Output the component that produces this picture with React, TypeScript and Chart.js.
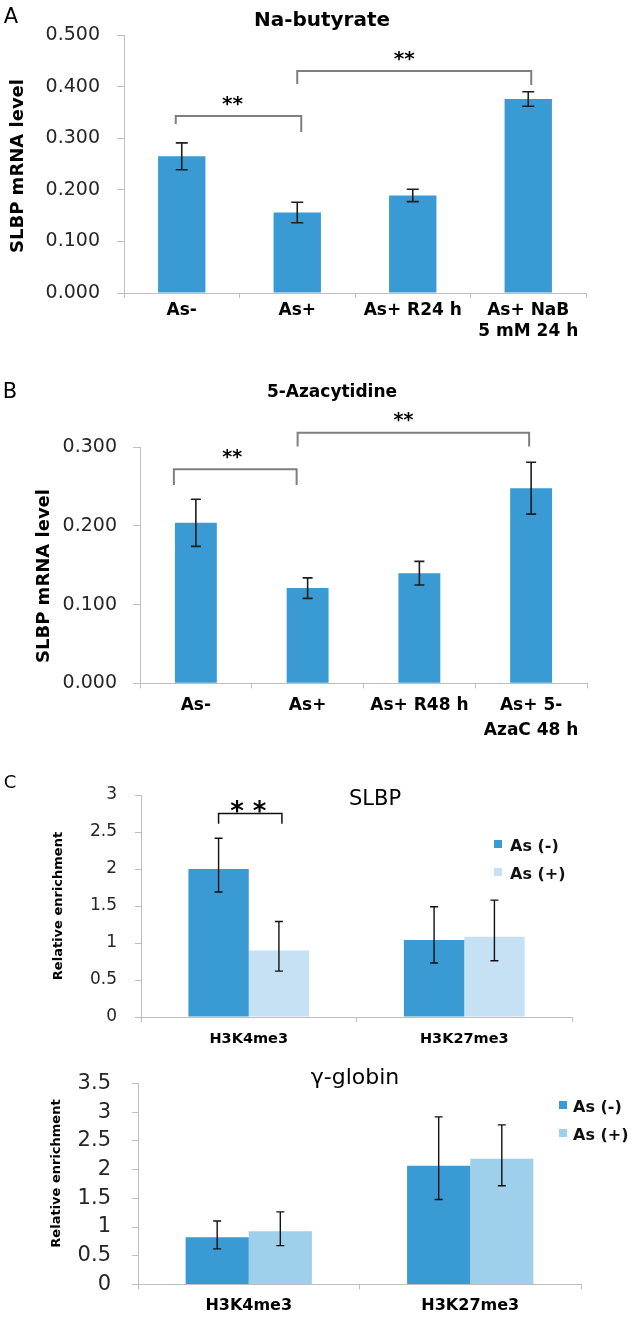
import React, { useEffect, useRef } from 'react';
import { Chart, registerables } from 'chart.js';

Chart.register(...registerables);

const FONT = "'DejaVu Sans', sans-serif";
const AXIS = '#bfbfbf';
const BLUE = '#3a9ad3';
const LIGHT_TOP = '#c6e1f4';
const LIGHT_BOT = '#9ecfeb';
const INK = '#1e1e1e';
const TICK = '#262626';

// ---- Panel A : Na-butyrate ----
const catsA = [['As-'], ['As+'], ['As+ R24 h'], ['As+ NaB', '5 mM 24 h']];
const valsA = [0.265, 0.156, 0.189, 0.376];
const errA = [0.026, 0.02, 0.012, 0.014];

// ---- Panel B : 5-Azacytidine ----
const catsB = [['As-'], ['As+'], ['As+ R48 h'], ['As+ 5-', 'AzaC 48 h']];
const valsB = [0.204, 0.121, 0.14, 0.248];
const errB = [0.03, 0.013, 0.015, 0.033];

// ---- Panel C : ChIP ----
const groupsC = ['H3K4me3', 'H3K27me3'];
const seriesC = ['As (-)', 'As (+)'];
const slbpNeg = [2.0, 1.04];
const slbpNegUp = [0.415, 0.45];
const slbpNegDown = [0.31, 0.31];
const slbpPos = [0.9, 1.085];
const slbpPosUp = [0.39, 0.495];
const slbpPosDown = [0.28, 0.325];
const globNeg = [0.82, 2.07];
const globNegUp = [0.285, 0.85];
const globNegDown = [0.2, 0.59];
const globPos = [0.925, 2.19];
const globPosUp = [0.34, 0.59];
const globPosDown = [0.25, 0.47];

function drawText(ctx: any, t: string, x: number, y: number, font: string, color: string, align: string = 'center', rotate: number = 0) {
  ctx.save();
  ctx.font = font;
  ctx.fillStyle = color;
  ctx.textAlign = align;
  ctx.textBaseline = 'alphabetic';
  ctx.translate(x, y);
  if (rotate) ctx.rotate(rotate);
  const m = ctx.measureText(t);
  const off = (m.actualBoundingBoxAscent - m.actualBoundingBoxDescent) / 2;
  ctx.fillText(t, 0, off);
  ctx.restore();
}

function decor(cfg: any) {
  return {
    id: 'decor_' + cfg.key,
    afterDatasetsDraw(chart: any) {
      const ctx = chart.ctx;
      const ys = chart.scales.y;
      (cfg.errors || []).forEach((e: any) => {
        const meta = chart.getDatasetMeta(e.ds);
        const vals = chart.data.datasets[e.ds].data;
        meta.data.forEach((bar: any, i: number) => {
          const v = vals[i];
          const yt = ys.getPixelForValue(v + e.up[i]);
          const yb = ys.getPixelForValue(v - e.down[i]);
          ctx.save();
          ctx.strokeStyle = e.color;
          ctx.lineWidth = e.width;
          ctx.beginPath();
          ctx.moveTo(bar.x, yt);
          ctx.lineTo(bar.x, yb);
          ctx.moveTo(bar.x - e.cap, yt);
          ctx.lineTo(bar.x + e.cap, yt);
          ctx.moveTo(bar.x - e.cap, yb);
          ctx.lineTo(bar.x + e.cap, yb);
          ctx.stroke();
          ctx.restore();
        });
      });
    },
    afterDraw(chart: any) {
      const ctx = chart.ctx;
      const ys = chart.scales.y;
      const top = cfg.top;
      (cfg.brackets || []).forEach((b: any) => {
        const x1 = chart.getDatasetMeta(b.from[0]).data[b.from[1]].x + b.dxFrom;
        const x2 = chart.getDatasetMeta(b.to[0]).data[b.to[1]].x + b.dxTo;
        const yTop = ys.getPixelForValue(b.top);
        const yL = ys.getPixelForValue(b.legFrom);
        const yR = ys.getPixelForValue(b.legTo);
        ctx.save();
        ctx.strokeStyle = b.color;
        ctx.lineWidth = b.width;
        ctx.beginPath();
        ctx.moveTo(x1, yL);
        ctx.lineTo(x1, yTop);
        ctx.lineTo(x2, yTop);
        ctx.lineTo(x2, yR);
        ctx.stroke();
        ctx.restore();
        drawText(ctx, b.star, (x1 + x2) / 2 + b.starDx, ys.getPixelForValue(b.starValue), b.starFont, '#000');
      });
      (cfg.texts || []).forEach((t: any) => {
        drawText(ctx, t.text, t.x, t.y - top, t.font, t.color || '#000', t.align || 'center', t.rotate || 0);
      });
      if (cfg.legend) {
        const L = cfg.legend;
        chart.data.datasets.forEach((ds: any, i: number) => {
          const yc = L.y + i * L.gap - top;
          ctx.save();
          ctx.fillStyle = ds.backgroundColor;
          ctx.fillRect(L.boxX, yc - 2 - L.box / 2, L.box, L.box);
          ctx.restore();
          drawText(ctx, ds.label, L.textX, yc, L.font, '#111', 'left');
        });
      }
    },
  };
}

function yAxis(min: number, max: number, step: number, fmt: (v: number) => string, size: number, tickLen: number, pad: number, width: number) {
  return {
    min,
    max,
    ticks: { stepSize: step, callback: (v: any) => fmt(Number(v)), font: { family: FONT, size }, color: TICK, padding: pad },
    grid: { drawOnChartArea: false, drawTicks: true, tickLength: tickLen, color: AXIS },
    border: { display: true, color: AXIS, width: 1 },
    afterFit: (s: any) => { s.width = width; },
  };
}

function xAxis(size: number, lineHeight: number, pad: number, height: number) {
  return {
    offset: true,
    grid: { offset: true, drawOnChartArea: false, drawTicks: true, tickLength: 5, color: AXIS },
    border: { display: true, color: AXIS, width: 1 },
    ticks: { font: { family: FONT, size, weight: 'bold', lineHeight }, color: '#000', padding: pad, autoSkip: false, maxRotation: 0, minRotation: 0 },
    afterFit: (s: any) => { s.height = height; },
  };
}

const fmt3 = (v: number) => v.toFixed(3);
const fmtC = (v: number) => String(Math.round(v * 10) / 10);

function baseOptions(padding: any, x: any, y: any) {
  return {
    animation: false,
    responsive: false,
    events: [],
    layout: { padding },
    plugins: { legend: { display: false }, tooltip: { enabled: false }, title: { display: false } },
    scales: { x, y },
  };
}

export default function App() {
  const refA = useRef<HTMLCanvasElement>(null);
  const refB = useRef<HTMLCanvasElement>(null);
  const refC1 = useRef<HTMLCanvasElement>(null);
  const refC2 = useRef<HTMLCanvasElement>(null);

  useEffect(() => {
    const charts: any[] = [];

    // Panel A: canvas top 0, height 345; area 124..586 x 35..293
    charts.push(new Chart(refA.current as any, {
      type: 'bar',
      data: { labels: catsA, datasets: [{ label: 'A', data: valsA, backgroundColor: BLUE, barPercentage: 0.41, categoryPercentage: 1 }] },
      options: baseOptions({ left: 0, top: 35, right: 47, bottom: 0 }, xAxis(17, 1.25, 2, 52), yAxis(0, 0.5, 0.1, fmt3, 19, 7, 17, 124)) as any,
      plugins: [decor({
        key: 'A', top: 0,
        errors: [{ ds: 0, up: errA, down: errA, cap: 6, width: 1.6, color: INK }],
        brackets: [
          { from: [0, 0], to: [0, 1], dxFrom: -6, dxTo: 4, top: 0.343, legFrom: 0.3275, legTo: 0.312, color: '#7f7f7f', width: 2, star: '**', starFont: `bold 20px ${FONT}`, starValue: 0.373, starDx: -6 },
          { from: [0, 1], to: [0, 3], dxFrom: 0, dxTo: 3, top: 0.43, legFrom: 0.405, legTo: 0.403, color: '#7f7f7f', width: 2, star: '**', starFont: `bold 20px ${FONT}`, starValue: 0.46, starDx: -10 },
        ],
        texts: [
          { text: 'A', x: 11, y: 15, font: `21px ${FONT}` },
          { text: 'Na-butyrate', x: 322, y: 20, font: `bold 20px ${FONT}` },
          { text: 'SLBP mRNA level', x: 16, y: 166, font: `bold 18px ${FONT}`, rotate: -Math.PI / 2 },
        ],
      })],
    }));

    // Panel B: canvas top 345, height 405; area 140..587 x 447.3..683.3 (page)
    charts.push(new Chart(refB.current as any, {
      type: 'bar',
      data: { labels: catsB, datasets: [{ label: 'B', data: valsB, backgroundColor: BLUE, barPercentage: 0.375, categoryPercentage: 1 }] },
      options: baseOptions({ left: 0, top: 102.3, right: 46, bottom: 0 }, xAxis(17, 1.45, 5, 66.7), yAxis(0, 0.3, 0.1, fmt3, 19, 7, 16, 140)) as any,
      plugins: [decor({
        key: 'B', top: 345,
        errors: [{ ds: 0, up: errB, down: errB, cap: 5, width: 1.6, color: INK }],
        brackets: [
          { from: [0, 0], to: [0, 1], dxFrom: -22, dxTo: -11, top: 0.272, legFrom: 0.252, legTo: 0.252, color: '#7f7f7f', width: 2, star: '**', starFont: `bold 19px ${FONT}`, starValue: 0.292, starDx: -3 },
          { from: [0, 1], to: [0, 3], dxFrom: -10, dxTo: -2, top: 0.3185, legFrom: 0.301, legTo: 0.301, color: '#7f7f7f', width: 2, star: '**', starFont: `bold 19px ${FONT}`, starValue: 0.3385, starDx: -10 },
        ],
        texts: [
          { text: 'B', x: 10, y: 390, font: `21px ${FONT}` },
          { text: '5-Azacytidine', x: 332, y: 392, font: `bold 17px ${FONT}` },
          { text: 'SLBP mRNA level', x: 42, y: 576, font: `bold 18px ${FONT}`, rotate: -Math.PI / 2 },
        ],
      })],
    }));

    // Panel C top: canvas top 750, height 300; area 141..572 x 795..1017 (page)
    charts.push(new Chart(refC1.current as any, {
      type: 'bar',
      data: {
        labels: groupsC,
        datasets: [
          { label: seriesC[0], data: slbpNeg, backgroundColor: BLUE, barPercentage: 1, categoryPercentage: 0.56 },
          { label: seriesC[1], data: slbpPos, backgroundColor: LIGHT_TOP, barPercentage: 1, categoryPercentage: 0.56 },
        ],
      },
      options: baseOptions({ left: 0, top: 45, right: 61, bottom: 0 }, xAxis(14.5, 1.2, 8.6, 33), yAxis(0, 3, 0.5, fmtC, 17, 6, 18, 141)) as any,
      plugins: [decor({
        key: 'C1', top: 750,
        errors: [
          { ds: 0, up: slbpNegUp, down: slbpNegDown, cap: 4, width: 1.4, color: '#111' },
          { ds: 1, up: slbpPosUp, down: slbpPosDown, cap: 4, width: 1.4, color: '#111' },
        ],
        brackets: [
          { from: [0, 0], to: [1, 0], dxFrom: 0, dxTo: 3, top: 2.75, legFrom: 2.61, legTo: 2.61, color: '#111', width: 1.5, star: '* *', starFont: `bold 26px ${FONT}`, starValue: 2.84, starDx: -2 },
        ],
        texts: [
          { text: 'C', x: 10, y: 781, font: `18px ${FONT}` },
          { text: 'SLBP', x: 375, y: 797, font: `21px ${FONT}` },
          { text: 'Relative enrichment', x: 56.5, y: 906, font: `bold 13px ${FONT}`, rotate: -Math.PI / 2 },
        ],
        legend: { boxX: 494, box: 8, y: 846, gap: 28, textX: 510, font: `bold 16px ${FONT}` },
      })],
    }));

    // Panel C bottom: canvas top 1050, height 268; area 138..581 x 1064..1291 (page)
    charts.push(new Chart(refC2.current as any, {
      type: 'bar',
      data: {
        labels: groupsC,
        datasets: [
          { label: seriesC[0], data: globNeg, backgroundColor: BLUE, barPercentage: 1, categoryPercentage: 0.57 },
          { label: seriesC[1], data: globPos, backgroundColor: LIGHT_BOT, barPercentage: 1, categoryPercentage: 0.57 },
        ],
      },
      options: baseOptions({ left: 0, top: 14, right: 52, bottom: 0 }, xAxis(16, 1.2, 6.4, 27), yAxis(0, 3.5, 0.5, fmtC, 21, 6, 21, 138)) as any,
      plugins: [decor({
        key: 'C2', top: 1050,
        errors: [
          { ds: 0, up: globNegUp, down: globNegDown, cap: 4, width: 1.4, color: '#111' },
          { ds: 1, up: globPosUp, down: globPosDown, cap: 4, width: 1.4, color: '#111' },
        ],
        texts: [
          { text: 'γ-globin', x: 355, y: 1078, font: `22px ${FONT}` },
          { text: 'Relative enrichment', x: 54.5, y: 1173.5, font: `bold 13px ${FONT}`, rotate: -Math.PI / 2 },
        ],
        legend: { boxX: 559, box: 8, y: 1107, gap: 28, textX: 573, font: `bold 16px ${FONT}` },
      })],
    }));

    return () => { charts.forEach((c) => c.destroy()); };
  }, []);

  const cs = (top: number, h: number) => ({ position: 'absolute' as const, left: 0, top, width: 633, height: h, display: 'block' });

  return (
    <div style={{ position: 'absolute', left: 0, top: 0, width: 633, height: 1318, background: '#fff', overflow: 'hidden' }}>
      <canvas ref={refA} width={633} height={345} style={cs(0, 345)} />
      <canvas ref={refB} width={633} height={405} style={cs(345, 405)} />
      <canvas ref={refC1} width={633} height={300} style={cs(750, 300)} />
      <canvas ref={refC2} width={633} height={268} style={cs(1050, 268)} />
    </div>
  );
}
